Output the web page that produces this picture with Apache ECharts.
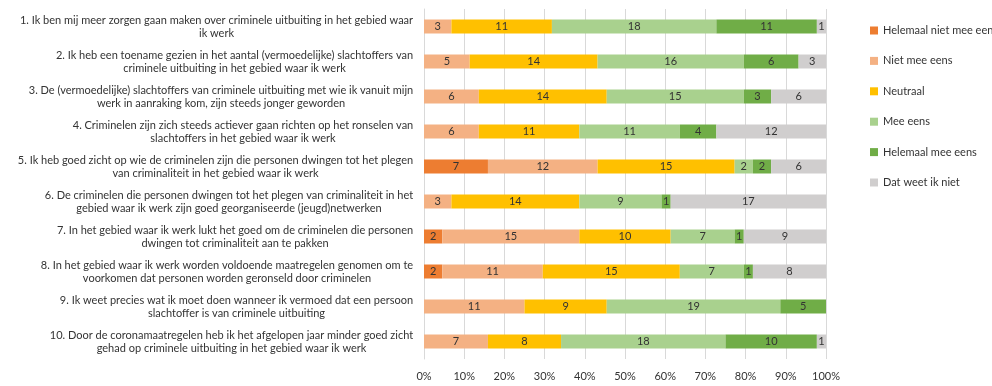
<!DOCTYPE html>
<html><head><meta charset="utf-8">
<script src="https://cdn.jsdelivr.net/npm/echarts@6/dist/echarts.min.js"></script>
<style>html,body{margin:0;padding:0;background:#fff}#c{width:992px;height:386px}</style>
</head><body><div id="c"></div>
<script>
var categories = [
  "1. Ik ben mij meer zorgen gaan maken over criminele uitbuiting in het gebied waar\nik werk",
  "2. Ik heb een toename gezien in het aantal (vermoedelijke) slachtoffers van\ncriminele uitbuiting in het gebied waar ik werk",
  "3. De (vermoedelijke) slachtoffers van criminele uitbuiting met wie ik vanuit mijn\nwerk in aanraking kom, zijn steeds jonger geworden",
  "4. Criminelen zijn zich steeds actiever gaan richten op het ronselen van\nslachtoffers in het gebied waar ik werk",
  "5. Ik heb goed zicht op wie de criminelen zijn die personen dwingen tot het plegen\nvan criminaliteit in het gebied waar ik werk",
  "6. De criminelen die personen dwingen tot het plegen van criminaliteit in het\ngebied waar ik werk zijn goed georganiseerde (jeugd)netwerken",
  "7. In het gebied waar ik werk lukt het goed om de criminelen die personen\ndwingen tot criminaliteit aan te pakken",
  "8. In het gebied waar ik werk worden voldoende maatregelen genomen om te\nvoorkomen dat personen worden geronseld door criminelen",
  "9. Ik weet precies wat ik moet doen wanneer ik vermoed dat een persoon\nslachtoffer is van criminele uitbuiting",
  "10. Door de coronamaatregelen heb ik het afgelopen jaar minder goed zicht\ngehad op criminele uitbuiting in het gebied waar ik werk"
];
var seriesNames = ["Helemaal niet mee eens","Niet mee eens","Neutraal","Mee eens","Helemaal mee eens","Dat weet ik niet"];
var helemaalNiet = [0,0,0,0,7,0,2,2,0,0];
var nietMeeEens  = [3,5,6,6,12,3,15,11,11,7];
var neutraal     = [11,14,14,11,15,14,10,15,9,8];
var meeEens      = [18,16,15,11,2,9,7,7,19,18];
var helemaalMee  = [11,6,3,4,2,1,1,1,5,10];
var weetNiet     = [1,3,6,12,6,17,9,8,0,1];
var xTicks = [0,10,20,30,40,50,60,70,80,90,100];

var colors = ["#ED7D31","#F4B183","#FFC000","#A9D18E","#70AD47","#D0CECE"];
var all = [helemaalNiet,nietMeeEens,neutraal,meeEens,helemaalMee,weetNiet];
var totals = categories.map(function(_,i){var s=0;all.forEach(function(a){s+=a[i];});return s;});

var LABEL_FONT = 11, LABEL_FAMILY = 'Lato';
var cv = document.createElement('canvas').getContext('2d');
cv.font = LABEL_FONT + 'px ' + LABEL_FAMILY;
var rich = {};
var catIndex = {};
categories.forEach(function(c,i){
  catIndex[c] = i;
  var w = 0;
  c.split('\n').forEach(function(l){ w = Math.max(w, cv.measureText(l).width); });
  rich['c'+i] = {align:'center', width: Math.ceil(w)+1, fontSize:LABEL_FONT, lineHeight:13,
                 color:'#333333', fontFamily:LABEL_FAMILY};
});

var series = all.map(function(arr,k){
  return {
    name: seriesNames[k], type:'bar', stack:'t', barWidth:14,
    itemStyle:{color:colors[k]},
    label:{show:true, position:'inside', color:'#333333', fontSize:11, fontFamily:'Lato',
      formatter:function(p){return p.data.raw>0?String(p.data.raw):'';}},
    data: arr.map(function(v,i){return {value: v/totals[i]*100, raw: v};})
  };
});
var chart = echarts.init(document.getElementById('c'));
chart.setOption({
  animation:false,
  textStyle:{fontFamily:'Lato'},
  grid:{left:424, right:166, top:9, bottom:27},
  legend:{orient:'vertical', left:865, top:20, itemWidth:8, itemHeight:8, itemGap:19.4,
    icon:'rect', textStyle:{fontSize:11, color:'#333333', fontFamily:'Lato'}, data:seriesNames},
  xAxis:{type:'value', min:0, max:100, interval:10,
    axisLine:{show:false}, axisTick:{show:false},
    splitLine:{lineStyle:{color:'#D9D9D9'}},
    axisLabel:{formatter:'{value}%', color:'#333333', fontSize:11, margin:12}},
  yAxis:{type:'category', inverse:true, data:categories,
    axisLine:{lineStyle:{color:'#D9D9D9'}}, axisTick:{show:false},
    axisLabel:{margin:10, color:'#333333', fontSize:LABEL_FONT, lineHeight:13,
      formatter:function(v){var i=catIndex[v];return v.split('\n').map(function(l){return '{c'+i+'|'+l+'}';}).join('\n');},
      rich:rich}},
  series: series
});
</script></body></html>
